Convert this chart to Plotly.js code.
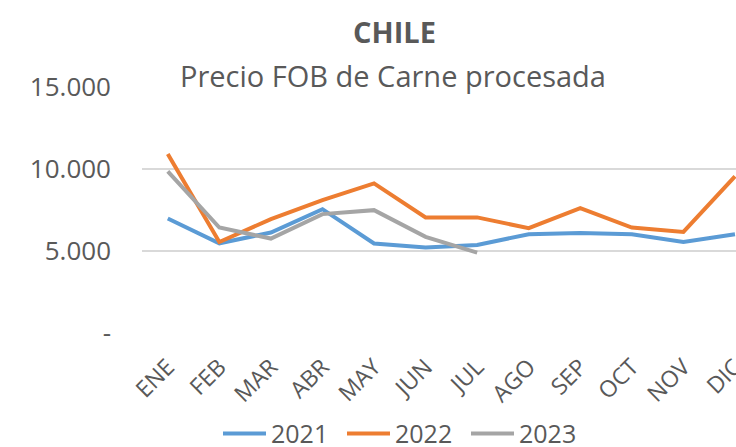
<!DOCTYPE html>
<html>
<head>
<meta charset="utf-8">
<script src="https://cdn.plot.ly/plotly-3.0.1.min.js"></script>
<style>
html,body{margin:0;padding:0;background:#fff;}
#chart{width:736px;height:447px;}
</style>
</head>
<body>
<div id="chart"></div>
<script>
const months = ['ENE','FEB','MAR','ABR','MAY','JUN','JUL','AGO','SEP','OCT','NOV','DIC'];
const s2021 = [6980, 5470, 6130, 7550, 5460, 5210, 5370, 6020, 6090, 6020, 5550, 6020];
const s2022 = [10920, 5550, 6940, 8100, 9120, 7050, 7050, 6390, 7610, 6430, 6160, 9550];
const s2023 = [9860, 6430, 5760, 7250, 7490, 5860, 4900];
const yTickVals = [0, 5000, 10000, 15000];
const yTickText = ['-', '5.000', '10.000', '15.000'];
const seriesNames = ['2021', '2022', '2023'];
const colors = ['#5B9BD5', '#ED7D31', '#A5A5A5'];
const titleText = 'CHILE';
const subtitleText = 'Precio FOB de Carne procesada';

const FONT = 'Open Sans, sans-serif';
const TXT = '#595959';
const PLOT_TOP = 87, PLOT_BOT = 333.5;
const pyToPaper = py => (PLOT_BOT - py) / (PLOT_BOT - PLOT_TOP);
const pxToPaper = px => (px - 142) / 594;

const data = [s2021, s2022, s2023].map((vals, i) => ({
  type: 'scatter',
  mode: 'lines',
  name: seriesNames[i],
  x: months.slice(0, vals.length),
  y: vals,
  line: {color: colors[i], width: 4},
  hoverinfo: 'skip'
}));

const layout = {
  width: 736, height: 447,
  margin: {l: 142, r: 0, t: PLOT_TOP, b: 447 - PLOT_BOT, autoexpand: false},
  paper_bgcolor: '#fff', plot_bgcolor: '#fff',
  font: {family: FONT, color: TXT},
  showlegend: true,
  legend: {
    orientation: 'h', xref: 'container', yref: 'paper',
    x: 218 / 736, xanchor: 'left', y: pyToPaper(434.5), yanchor: 'middle',
    font: {family: FONT, size: 25, color: TXT},
    itemwidth: 43, entrywidth: 66, entrywidthmode: 'pixels',
    tracegroupgap: 0
  },
  xaxis: {
    type: 'category', categoryorder: 'array', categoryarray: months,
    range: [-0.5, 11.02],
    tickangle: -45,
    tickfont: {family: FONT, size: 23, color: TXT},
    showgrid: false, showline: false, zeroline: false, ticks: '',
    ticklabelstandoff: 15
  },
  yaxis: {
    range: [0, 15000],
    tickvals: yTickVals, ticktext: yTickText,
    tickfont: {family: FONT, size: 26, color: TXT},
    showgrid: true, gridcolor: '#D9D9D9', gridwidth: 1.5,
    zeroline: false, showline: false, ticks: '',
    ticklabelstandoff: 30
  },
  annotations: [
    {text: '<b>' + titleText + '</b>', xref: 'paper', yref: 'paper',
     x: pxToPaper(394), y: pyToPaper(31), xanchor: 'center', yanchor: 'middle',
     showarrow: false, font: {family: FONT, size: 29, color: TXT}},
    {text: subtitleText, xref: 'paper', yref: 'paper',
     x: pxToPaper(393), y: pyToPaper(75), xanchor: 'center', yanchor: 'middle',
     showarrow: false, font: {family: FONT, size: 29, color: TXT}}
  ]
};

Plotly.newPlot('chart', data, layout, {staticPlot: true, displayModeBar: false});
</script>
</body>
</html>
